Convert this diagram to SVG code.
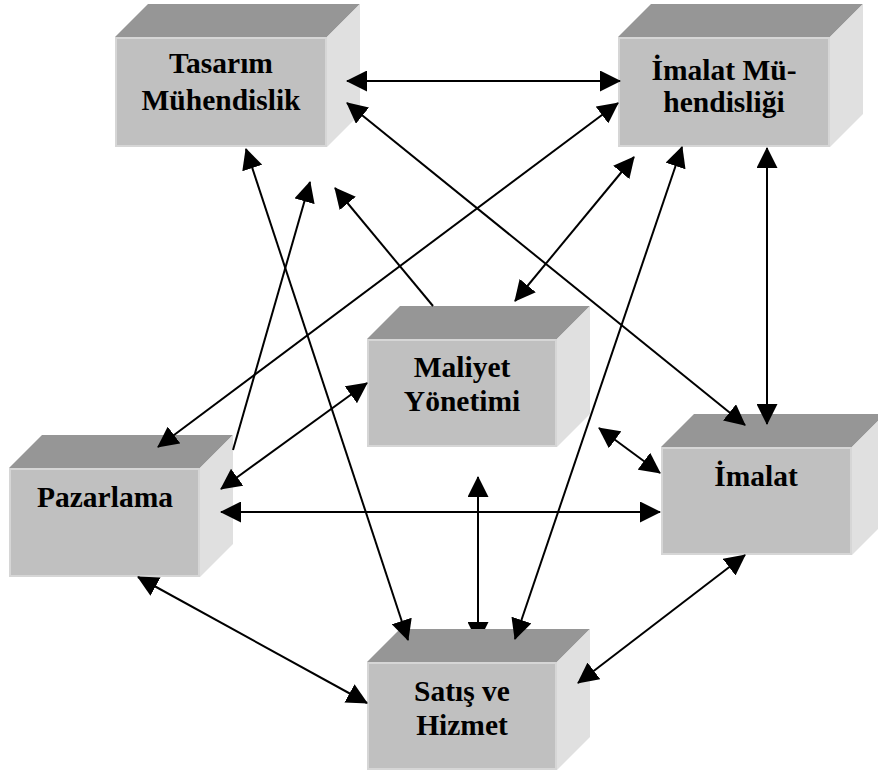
<svg xmlns="http://www.w3.org/2000/svg" width="878" height="773" viewBox="0 0 878 773">
  <defs>
    <marker id="ah" markerUnits="userSpaceOnUse" markerWidth="21" markerHeight="21" refX="20" refY="10.5" orient="auto-start-reverse">
      <path d="M0,0 L21,10.5 L0,21 z" fill="#000"/>
    </marker>
    <style>
      .front { fill: #c0c0c0; stroke: #d6d6d6; stroke-width: 2; }
      .top { fill: #969696; }
      .side { fill: #e0e0e0; }
      .lbl { font-family: "Liberation Serif", "Times New Roman", serif; font-weight: bold; font-size: 29.5px; fill: #000; text-anchor: middle; }
      .c { fill: none; stroke: #000; stroke-width: 2; }
      .d { marker-start: url(#ah); marker-end: url(#ah); }
      .s { marker-end: url(#ah); }
    </style>
  </defs>
  <rect width="878" height="773" fill="#fff"/>

  <g id="connectors-behind">
    <line class="c d" x1="478" y1="477" x2="478" y2="642"/>
  </g>

  <g id="node-tasarim">
    <polygon class="top" points="115,37 148,4 360,4 327,37"/>
    <polygon class="side" points="327,37 360,4 360,114 327,147"/>
    <rect class="front" x="116" y="38" width="210" height="108"/>
    <text class="lbl" x="221" y="73">Tasarım</text>
    <text class="lbl" x="221" y="110">Mühendislik</text>
  </g>

  <g id="node-imalat-muh">
    <polygon class="top" points="618,37 651,4 863,4 830,37"/>
    <polygon class="side" points="830,37 863,4 863,114 830,147"/>
    <rect class="front" x="619" y="38" width="210" height="108"/>
    <text class="lbl" x="724" y="80">İmalat Mü-</text>
    <text class="lbl" x="724" y="112">hendisliği</text>
  </g>

  <g id="node-maliyet">
    <polygon class="top" points="367,339 400,306 590,306 557,339"/>
    <polygon class="side" points="557,339 590,306 590,414 557,447"/>
    <rect class="front" x="368" y="340" width="188" height="106"/>
    <text class="lbl" x="462" y="377">Maliyet</text>
    <text class="lbl" x="462" y="411">Yönetimi</text>
  </g>

  <g id="node-pazarlama">
    <polygon class="top" points="9,468 42,435 233,435 200,468"/>
    <polygon class="side" points="200,468 233,435 233,544 200,577"/>
    <rect class="front" x="10" y="469" width="189" height="107"/>
    <text class="lbl" x="105" y="507">Pazarlama</text>
  </g>

  <g id="node-imalat">
    <polygon class="top" points="661,447 694,414 885,414 852,447"/>
    <polygon class="side" points="852,447 885,414 885,522 852,555"/>
    <rect class="front" x="662" y="448" width="189" height="106"/>
    <text class="lbl" x="756" y="486">İmalat</text>
  </g>

  <g id="node-satis">
    <polygon class="top" points="367,662 400,629 590,629 557,662"/>
    <polygon class="side" points="557,662 590,629 590,737 557,770"/>
    <rect class="front" x="368" y="663" width="188" height="106"/>
    <text class="lbl" x="462" y="701">Satış ve</text>
    <text class="lbl" x="462" y="735">Hizmet</text>
  </g>

  <g id="connectors">
    <line class="c d" x1="347" y1="81" x2="620" y2="81"/>
    <line class="c d" x1="347" y1="103" x2="745" y2="425"/>
    <line class="c d" x1="618" y1="103" x2="158" y2="447"/>
    <line class="c d" x1="634" y1="157" x2="515" y2="301"/>
    <line class="c d" x1="682" y1="147" x2="515" y2="639"/>
    <line class="c d" x1="767" y1="148" x2="767" y2="424"/>
    <line class="c d" x1="246" y1="149" x2="408" y2="640"/>
    <line class="c s" x1="233" y1="450" x2="310" y2="182"/>
    <line class="c s" x1="433" y1="306" x2="335" y2="188"/>
    <line class="c d" x1="367" y1="383" x2="221" y2="489"/>
    <line class="c d" x1="221" y1="512" x2="660" y2="512"/>
    <line class="c d" x1="599" y1="428" x2="660" y2="473"/>
    <line class="c d" x1="138" y1="577" x2="367" y2="703"/>
    <line class="c d" x1="745" y1="555" x2="578" y2="683"/>
  </g>
</svg>
